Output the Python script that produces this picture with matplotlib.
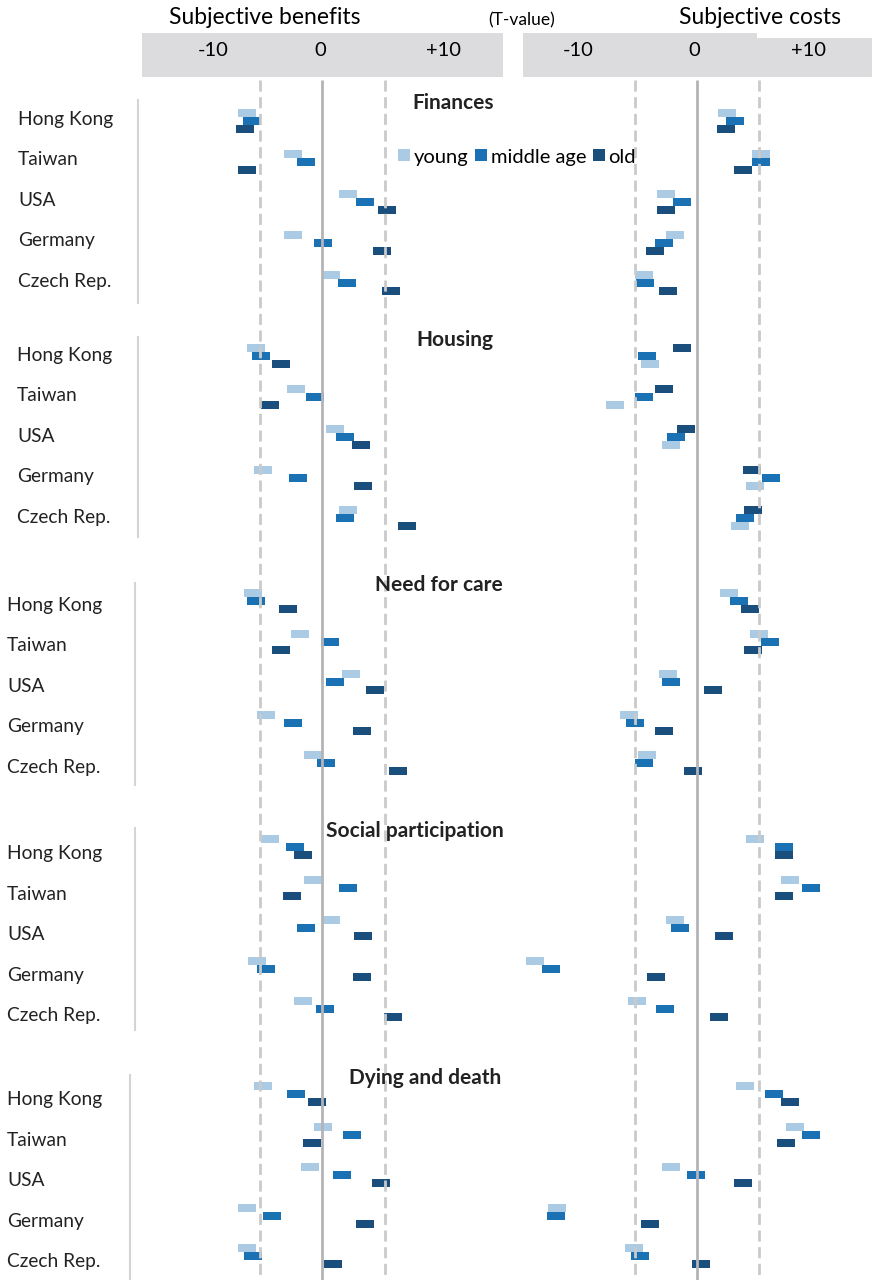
import numpy as np
import matplotlib.pyplot as plt
from matplotlib.patches import Rectangle
from matplotlib.lines import Line2D

plt.rcParams['font.family'] = ['Lato', 'DejaVu Sans']

countries = ["Hong Kong", "Taiwan", "USA", "Germany", "Czech Rep."]
sections = ["Finances", "Housing", "Need for care", "Social participation", "Dying and death"]
age_groups = ["young", "middle age", "old"]
colors = ["#abcbe5", "#1a72b5", "#1a4e7c"]

# T-values, rows = young / middle age / old, columns = countries
fin_benefits = [[-6.0, -2.3, 2.1, -2.3, 0.7],
                [-5.6, -1.3, 3.4, 0.1, 2.0],
                [-6.2, -6.0, 5.2, 4.8, 5.5]]
fin_costs = [[2.4, 5.2, -2.5, -1.8, -4.3],
             [3.1, 5.2, -1.2, -2.7, -4.2],
             [2.3, 3.7, -2.5, -3.4, -2.3]]

housing_benefits = [[-5.3, -2.1, 1.0, -4.7, 2.1],
                    [-4.9, -0.6, 1.8, -1.9, 1.8],
                    [-3.3, -4.2, 3.1, 3.3, 6.8]]
housing_costs = [[-3.8, -6.6, -2.1, 4.7, 3.5],
                 [-4.0, -4.3, -1.7, 6.0, 3.9],
                 [-1.2, -2.7, -0.9, 4.4, 4.5]]

care_benefits = [[-5.5, -1.8, 2.3, -4.5, -0.7],
                 [-5.3, 0.6, 1.0, -2.3, 0.3],
                 [-2.7, -3.3, 4.2, 3.2, 6.1]]
care_costs = [[2.6, 5.0, -2.3, -5.5, -4.0],
              [3.4, 5.9, -2.1, -5.0, -4.3],
              [4.3, 4.5, 1.3, -2.7, -0.3]]

social_benefits = [[-4.2, -0.7, 0.7, -5.2, -1.5],
                   [-2.2, 2.1, -1.3, -4.5, 0.2],
                   [-1.5, -2.4, 3.3, 3.2, 5.7]]
social_costs = [[4.7, 7.5, -1.8, -13.1, -4.8],
                [7.0, 9.2, -1.4, -11.8, -2.6],
                [7.0, 7.0, 2.2, -3.3, 1.8]]

death_benefits = [[-4.7, 0.1, -1.0, -6.0, -6.0],
                  [-2.1, 2.4, 1.6, -4.0, -5.5],
                  [-0.4, -0.8, 4.7, 3.4, 0.9]]
death_costs = [[3.9, 7.9, -2.1, -11.3, -5.1],
               [6.2, 9.2, -0.1, -11.4, -4.6],
               [7.5, 7.2, 3.7, -3.8, 0.3]]

benefits = [fin_benefits, housing_benefits, care_benefits, social_benefits, death_benefits]
costs = [fin_costs, housing_costs, care_costs, social_costs, death_costs]

# layout (pixels of the 872x1280 canvas)
W, H = 872, 1280
row_base = [121, 356, 601, 847, 1094]      # middle-age row of first country
label_base = [119, 355, 605, 854, 1100]
label_x = [18, 17, 7, 7, 7]
sep_x = [138, 138, 135, 135, 130]
sep_span = [(100, 303), (337, 537), (583, 785), (828, 1030), (1075, 1280)]
title_pos = [(453, 103), (455, 340), (439, 585), (415, 831), (425, 1078)]
row_step = 40.6
offsets = [-8, 0, 8]


def fx(px):
    return px / W


def fy(py):
    return 1 - py / H


fig = plt.figure(figsize=(8.72, 12.8), dpi=100)

# benefits panel: 0 at x=322, 12.5 px per unit; costs panel: 0 at x=697, 12.4 px per unit
ax_b = fig.add_axes([fx(142), 0, (503 - 142) / W, 1])
ax_c = fig.add_axes([fx(523), 0, (872 - 523) / W, 1])
ax_b.set_xlim((142 - 322) / 12.5, (503 - 322) / 12.5)
ax_c.set_xlim((523 - 697) / 12.4, (872 - 697) / 12.4)

rect = [(-1, -0.5), (1, -0.5), (1, 0.5), (-1, 0.5), (-1, -0.5)]

for ax, panel in [(ax_b, benefits), (ax_c, costs)]:
    ax.set_ylim(H, 0)
    ax.axis("off")
    x0, x1 = ax.get_xlim()
    # grey header band
    if ax is ax_c:
        step = (757 - 697) / 12.4
        ax.add_patch(Rectangle((x0, 33), step - x0, 44, color="#dcdcde", lw=0, clip_on=False))
        ax.add_patch(Rectangle((step, 38), x1 - step, 39, color="#dcdcde", lw=0, clip_on=False))
    else:
        ax.add_patch(Rectangle((x0, 33), x1 - x0, 44, color="#dcdcde", lw=0, clip_on=False))

    ax.vlines(0, 80, H, color="#b4b4b8", lw=2, zorder=3)
    ax.vlines([-5, 5], 80, H, colors="#cacaca", lw=2, linestyles=(0, (4, 2)), zorder=3)

    for s, data in enumerate(panel):
        order = offsets[::-1] if (ax is ax_c and s == 1) else offsets
        for g in range(3):
            y = row_base[s] + row_step * np.arange(len(countries)) + order[g]
            ax.plot(data[g], y, ls="none", marker=rect, ms=12.4, mew=0,
                    color=colors[g], zorder=2, clip_on=False)

# header texts
fig.text(fx(265), fy(18), "Subjective benefits", ha="center", va="center", fontsize=16.5)
fig.text(fx(522), fy(20), "(T-value)", ha="center", va="center", fontsize=12.5)
fig.text(fx(760), fy(18), "Subjective costs", ha="center", va="center", fontsize=16.5)
for px, txt in [(213, "-10"), (320, "0"), (443, "+10"), (578, "-10"), (694, "0"), (808, "+10")]:
    fig.text(fx(px), fy(51), txt, ha="center", va="center", fontsize=14.5)

# country labels, separators, section titles
for s, title in enumerate(sections):
    for i, c in enumerate(countries):
        fig.text(fx(label_x[s]), fy(label_base[s] + 40.5 * i), c,
                 ha="left", va="center", fontsize=13.8, color="#222222")
    y0, y1 = sep_span[s]
    fig.add_artist(Line2D([fx(sep_x[s])] * 2, [fy(y0), fy(y1)], color="#d4d4d4", lw=1.5))
    tx, ty = title_pos[s]
    fig.text(fx(tx), fy(ty), title, ha="center", va="center",
             fontsize=15, fontweight="bold", color="#222222")

handles = [Line2D([], [], ls="none", marker="s", ms=8, mew=0, color=c) for c in colors]
fig.legend(handles, age_groups, loc="center", bbox_to_anchor=(fx(517), fy(157)),
           ncol=3, frameon=False, fontsize=14.5, handlelength=0.6, handletextpad=0.2,
           columnspacing=0.3, borderpad=0)

fig.savefig("out.png", dpi=100)
